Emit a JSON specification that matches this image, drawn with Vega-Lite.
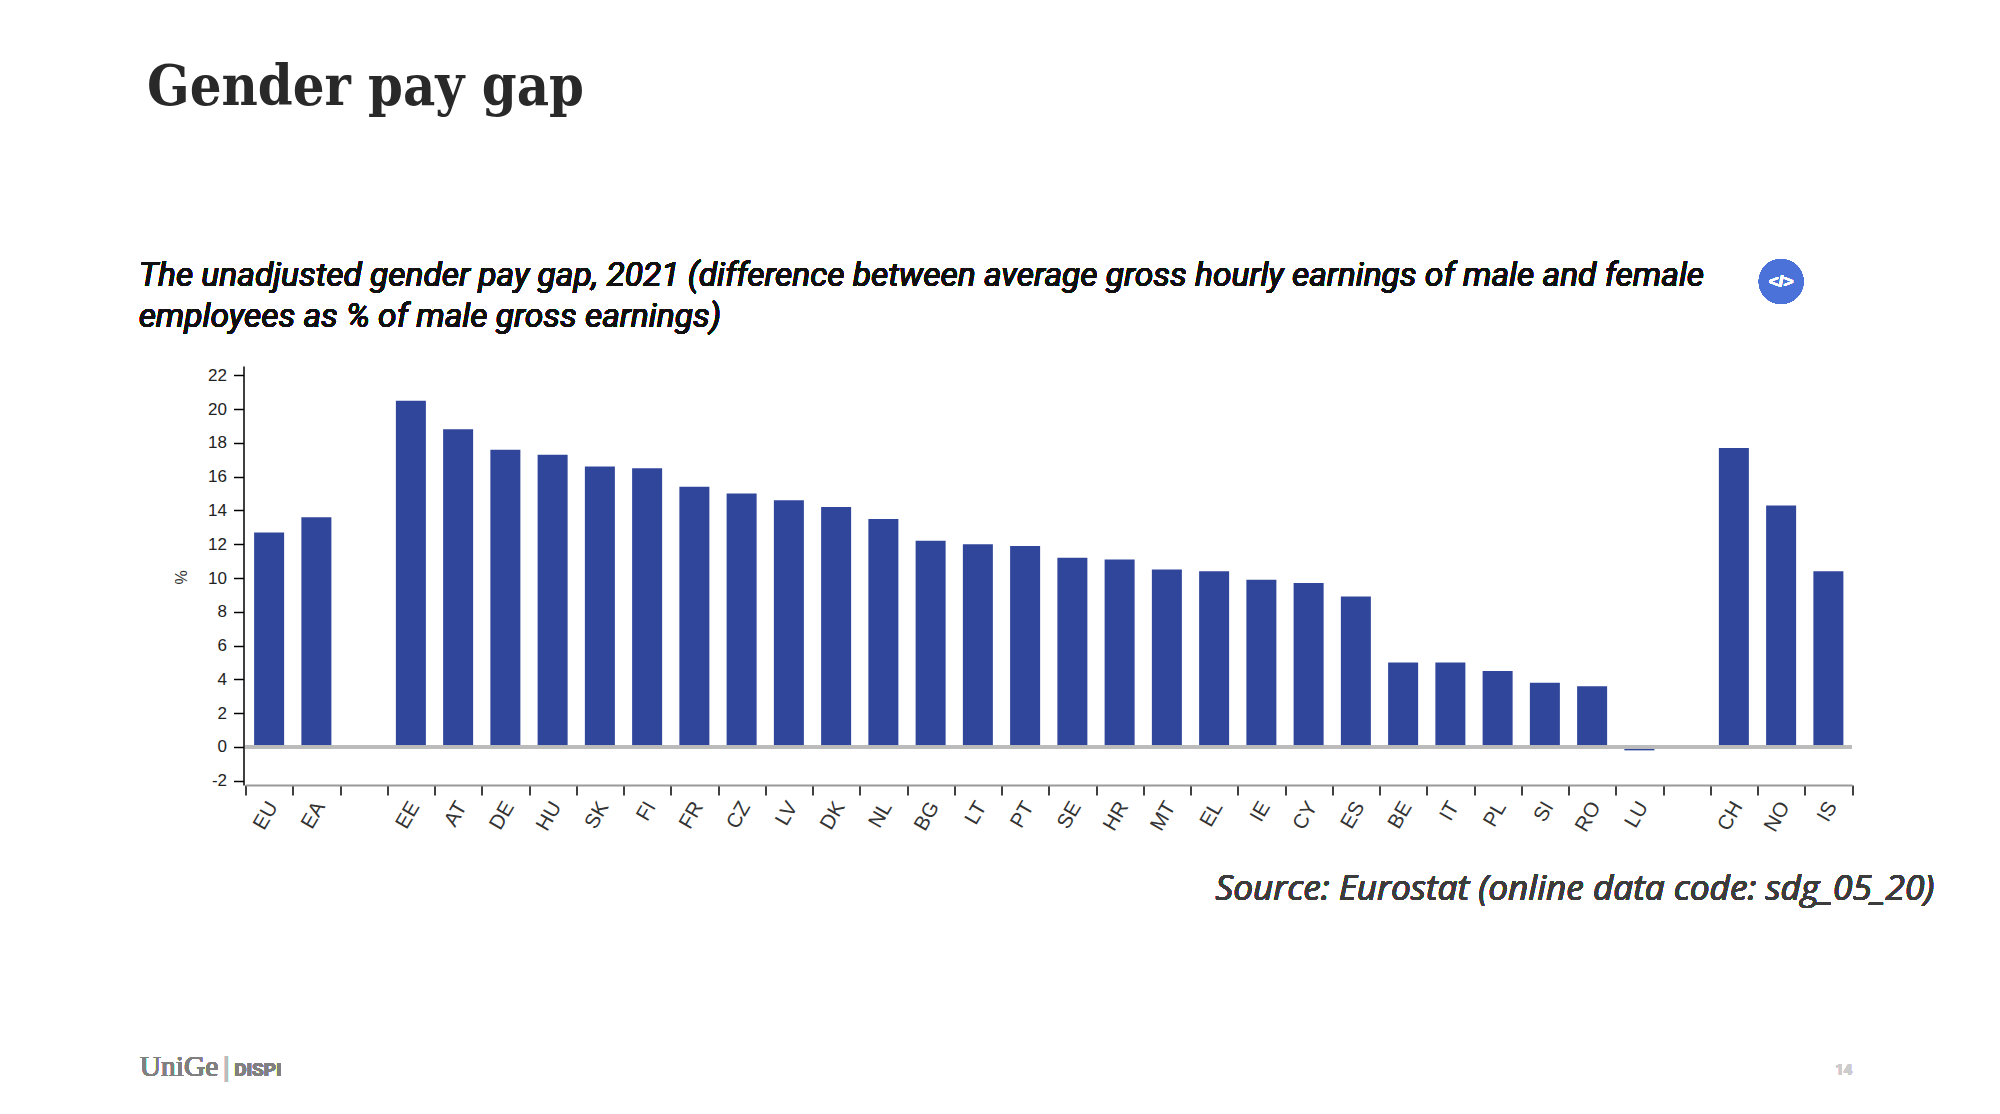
{
"$schema":"https://vega.github.io/schema/vega-lite/v6.json",
"autosize":"none",
"width":1606.5,"height":419,
"padding":{"left":245.5,"top":366,"right":148,"bottom":329},
"background":"white",
"view":{"stroke":null},
"config":{"axis":{"labelOverlap":false}},
"title":{"text":"Gender pay gap","anchor":"start","frame":"group","dx":-98.5,"offset":98,"baseline":"alphabetic","font":"DejaVu Serif Condensed","fontWeight":"bold","fontSize":55.5,"color":"#292929"},
"data":{"values":[
{"c":"EU","v":12.7},{"c":"EA","v":13.6},{"c":"EE","v":20.5},{"c":"AT","v":18.8},{"c":"DE","v":17.6},{"c":"HU","v":17.3},{"c":"SK","v":16.6},{"c":"FI","v":16.5},{"c":"FR","v":15.4},{"c":"CZ","v":15.0},{"c":"LV","v":14.6},{"c":"DK","v":14.2},{"c":"NL","v":13.5},{"c":"BG","v":12.2},{"c":"LT","v":12.0},{"c":"PT","v":11.9},{"c":"SE","v":11.2},{"c":"HR","v":11.1},{"c":"MT","v":10.5},{"c":"EL","v":10.4},{"c":"IE","v":9.9},{"c":"CY","v":9.7},{"c":"ES","v":8.9},{"c":"BE","v":5.0},{"c":"IT","v":5.0},{"c":"PL","v":4.5},{"c":"SI","v":3.8},{"c":"RO","v":3.6},{"c":"LU","v":-0.2},{"c":"CH","v":17.7},{"c":"NO","v":14.3},{"c":"IS","v":10.4}
]},
"layer":[
{"mark":{"type":"bar","color":"#30469b","width":{"band":0.635}},
 "encoding":{
  "x":{"field":"c","type":"nominal","sort":null,
   "scale":{"domain":["EU","EA"," ","EE","AT","DE","HU","SK","FI","FR","CZ","LV","DK","NL","BG","LT","PT","SE","HR","MT","EL","IE","CY","ES","BE","IT","PL","SI","RO","LU","  ","CH","NO","IS"],"paddingInner":0,"paddingOuter":0},
   "axis":{"title":null,
    "labelAngle":-60,"labelAlign":"right","labelBaseline":"middle","labelFont":"Liberation Sans","labelFontSize":20.5,"labelColor":"#333333","labelPadding":8,"labelOffset":3.5,
    "tickBand":"extent","tickSize":10,"tickColor":"#000000","tickWidth":1.5,"domainColor":"#999999","domainWidth":2,"grid":false,
    "labelExpr":"trim(datum.label)"}},
  "y":{"field":"v","type":"quantitative",
   "scale":{"domain":[-2.25,22.55],"nice":false,"zero":false},
   "axis":{"title":"%","titleFont":"Liberation Sans","titleFontWeight":"normal","titleFontSize":16,"titleColor":"#333333","titleX":-54,"titleY":211,"offset":2,
    "values":[-2,0,2,4,6,8,10,12,14,16,18,20,22],"tickCount":20,"labelExpr":"replace(datum.label,'−','-')","labelFont":"Liberation Sans","labelFontSize":17,"labelColor":"#222222","labelPadding":7,
    "tickSize":10,"tickColor":"#000000","tickWidth":1.5,"domainColor":"#000000","domainWidth":1.5,"grid":false}}
 }},
{"mark":{"type":"rule","color":"#bbbbbb","strokeWidth":2.5},"encoding":{"y":{"datum":0,"type":"quantitative"}}},
{"mark":{"type":"text","text":["The unadjusted gender pay gap, 2021 (difference between average gross hourly earnings of male and female","employees as % of male gross earnings)"],"font":"Roboto","fontStyle":"italic","fontSize":33.5,"lineHeight":41,"align":"left","baseline":"alphabetic","color":"#111111","dx":-130.5},
 "encoding":{"x":{"datum":"EU","type":"nominal"},"y":{"datum":27.3,"type":"quantitative"}}},
{"mark":{"type":"text","text":"Source: Eurostat (online data code: sdg_05_20)","font":"Open Sans","fontStyle":"italic","fontSize":35.2,"align":"right","baseline":"alphabetic","color":"#3c3c3c","dx":106},
 "encoding":{"x":{"datum":"IS","type":"nominal"},"y":{"datum":-9.06,"type":"quantitative"}}},
{"mark":{"type":"point","filled":true,"color":"#4a72d9","opacity":1,"size":2000},
 "encoding":{"x":{"datum":"NO","type":"nominal"},"y":{"datum":27.55,"type":"quantitative"}}},
{"mark":{"type":"text","text":"</>","font":"Liberation Sans","fontWeight":"bold","fontSize":17,"color":"white","align":"center","baseline":"middle"},
 "encoding":{"x":{"datum":"NO","type":"nominal"},"y":{"datum":27.55,"type":"quantitative"}}},
{"mark":{"type":"text","text":"UniGe","font":"Liberation Serif","fontSize":29.5,"color":"#808080","align":"left","baseline":"alphabetic","dx":-129.5},
 "encoding":{"x":{"datum":"EU","type":"nominal"},"y":{"datum":-19.5,"type":"quantitative"}}},
{"mark":{"type":"text","text":"|","font":"Liberation Sans","fontWeight":"normal","fontSize":28,"color":"#bbbbbb","align":"left","baseline":"alphabetic","dx":-46.5},
 "encoding":{"x":{"datum":"EU","type":"nominal"},"y":{"datum":-19.5,"type":"quantitative"}}},
{"mark":{"type":"text","text":"DISPI","font":"Roboto","fontWeight":"bold","fontSize":19,"color":"#808080","align":"left","baseline":"alphabetic","dx":-35},
 "encoding":{"x":{"datum":"EU","type":"nominal"},"y":{"datum":-19.5,"type":"quantitative"}}},
{"mark":{"type":"text","text":"14","font":"Roboto","fontWeight":"bold","fontSize":15,"color":"#cccccc","align":"right","baseline":"alphabetic","dx":24},
 "encoding":{"x":{"datum":"IS","type":"nominal"},"y":{"datum":-19.4,"type":"quantitative"}}}
]
}
